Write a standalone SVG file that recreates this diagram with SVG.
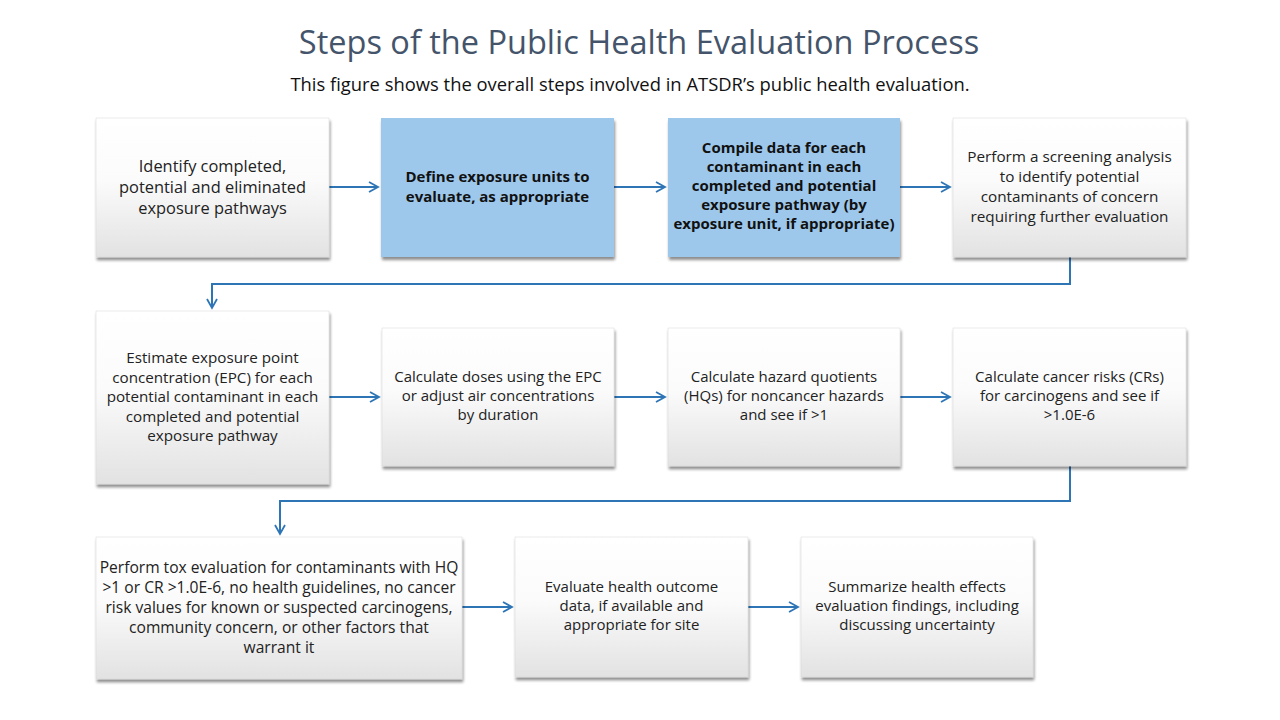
<svg xmlns="http://www.w3.org/2000/svg" width="1280" height="720" viewBox="0 0 1280 720">
<defs>
<linearGradient id="g" x1="0" y1="0" x2="0" y2="1">
<stop offset="0" stop-color="#ffffff"/>
<stop offset="0.45" stop-color="#fbfbfb"/>
<stop offset="1" stop-color="#e2e2e2"/>
</linearGradient>
<filter id="sh" x="-10%" y="-10%" width="120%" height="125%">
<feGaussianBlur in="SourceAlpha" stdDeviation="1.5"/>
<feOffset dx="1" dy="2.5"/>
<feComponentTransfer><feFuncA type="linear" slope="0.45"/></feComponentTransfer>
<feMerge><feMergeNode/><feMergeNode in="SourceGraphic"/></feMerge>
</filter>
<marker id="ah" viewBox="0 0 12 12" refX="10.5" refY="6" markerWidth="12" markerHeight="12" markerUnits="userSpaceOnUse" orient="auto">
<path d="M1.5,1 L10.5,6 L1.5,11" fill="none" stroke="#2E75B6" stroke-width="1.8"/>
</marker>
</defs>
<style>
.box{fill:url(#g);stroke:#d6d6d6;stroke-width:0.5;filter:url(#sh)}
.blue{fill:#9DC8EC;stroke:none;filter:url(#sh)}
.t{font-family:"Open Sans","Liberation Sans",sans-serif;font-size:15px;fill:#222;text-anchor:middle}
.b{font-family:"Open Sans","Liberation Sans",sans-serif;font-size:15px;font-weight:bold;fill:#111;text-anchor:middle}
.c{fill:none;stroke:#2E75B6;stroke-width:2}
</style>
<rect width="1280" height="720" fill="#fff"/>
<text x="639" y="54" font-family="'Open Sans','Liberation Sans',sans-serif" font-size="32.5" fill="#44546A" text-anchor="middle">Steps of the Public Health Evaluation Process</text>
<text x="630" y="91" font-family="'Open Sans','Liberation Sans',sans-serif" font-size="18.4" fill="#111" text-anchor="middle">This figure shows the overall steps involved in ATSDR’s public health evaluation.</text>

<g id="connectors">
<line class="c" x1="329" y1="187" x2="378" y2="187" marker-end="url(#ah)"/>
<line class="c" x1="614" y1="187" x2="665" y2="187" marker-end="url(#ah)"/>
<line class="c" x1="900" y1="187" x2="950" y2="187" marker-end="url(#ah)"/>
<polyline class="c" points="1070,257 1070,284 212,284 212,308" marker-end="url(#ah)"/>
<line class="c" x1="329" y1="397" x2="379" y2="397" marker-end="url(#ah)"/>
<line class="c" x1="614" y1="397" x2="665" y2="397" marker-end="url(#ah)"/>
<line class="c" x1="900" y1="397" x2="950" y2="397" marker-end="url(#ah)"/>
<polyline class="c" points="1070,466 1070,501 280,501 280,534" marker-end="url(#ah)"/>
<line class="c" x1="462" y1="607" x2="512" y2="607" marker-end="url(#ah)"/>
<line class="c" x1="748" y1="607" x2="798" y2="607" marker-end="url(#ah)"/>
</g>

<g id="n1"><rect class="box" x="96" y="118" width="233" height="139"/>
<text class="t" x="212.5" style="font-size:16.4px"><tspan x="212.5" y="172">Identify completed,</tspan><tspan x="212.5" y="193">potential and eliminated</tspan><tspan x="212.5" y="214">exposure pathways</tspan></text></g>

<g id="n2"><rect class="blue" x="381" y="118" width="233" height="139"/>
<text class="b" x="497.5"><tspan x="497.5" y="182">Define exposure units to</tspan><tspan x="497.5" y="202">evaluate, as appropriate</tspan></text></g>

<g id="n3"><rect class="blue" x="668" y="118" width="232" height="139"/>
<text class="b" x="784"><tspan x="784" y="153">Compile data for each</tspan><tspan x="784" y="172">contaminant in each</tspan><tspan x="784" y="191">completed and potential</tspan><tspan x="784" y="210">exposure pathway (by</tspan><tspan x="784" y="229">exposure unit, if appropriate)</tspan></text></g>

<g id="n4"><rect class="box" x="953" y="118" width="233" height="139"/>
<text class="t" x="1069.5" style="font-size:15.3px"><tspan x="1069.5" y="162">Perform a screening analysis</tspan><tspan x="1069.5" y="182">to identify potential</tspan><tspan x="1069.5" y="202">contaminants of concern</tspan><tspan x="1069.5" y="222">requiring further evaluation</tspan></text></g>

<g id="n5"><rect class="box" x="96" y="311" width="233" height="173"/>
<text class="t" x="212.5" style="font-size:15.2px"><tspan x="212.5" y="363">Estimate exposure point</tspan><tspan x="212.5" y="382.5">concentration (EPC) for each</tspan><tspan x="212.5" y="402">potential contaminant in each</tspan><tspan x="212.5" y="421.5">completed and potential</tspan><tspan x="212.5" y="441">exposure pathway</tspan></text></g>

<g id="n6"><rect class="box" x="382" y="328" width="232" height="138"/>
<text class="t" x="498"><tspan x="498" y="382">Calculate doses using the EPC</tspan><tspan x="498" y="401">or adjust air concentrations</tspan><tspan x="498" y="420">by duration</tspan></text></g>

<g id="n7"><rect class="box" x="668" y="328" width="232" height="138"/>
<text class="t" x="784"><tspan x="784" y="382">Calculate hazard quotients</tspan><tspan x="784" y="401">(HQs) for noncancer hazards</tspan><tspan x="784" y="420">and see if &gt;1</tspan></text></g>

<g id="n8"><rect class="box" x="953" y="328" width="233" height="138"/>
<text class="t" x="1069.5"><tspan x="1069.5" y="382">Calculate cancer risks (CRs)</tspan><tspan x="1069.5" y="401">for carcinogens and see if</tspan><tspan x="1069.5" y="420">&gt;1.0E-6</tspan></text></g>

<g id="n9"><rect class="box" x="96" y="537" width="366" height="142"/>
<text class="t" x="279" style="font-size:15.6px"><tspan x="279" y="573">Perform tox evaluation for contaminants with HQ</tspan><tspan x="279" y="593">&gt;1 or CR &gt;1.0E-6, no health guidelines, no cancer</tspan><tspan x="279" y="613">risk values for known or suspected carcinogens,</tspan><tspan x="279" y="633">community concern, or other factors that</tspan><tspan x="279" y="653">warrant it</tspan></text></g>

<g id="n10"><rect class="box" x="515" y="537" width="233" height="140"/>
<text class="t" x="631.5"><tspan x="631.5" y="592">Evaluate health outcome</tspan><tspan x="631.5" y="611">data, if available and</tspan><tspan x="631.5" y="630">appropriate for site</tspan></text></g>

<g id="n11"><rect class="box" x="801" y="537" width="232" height="140"/>
<text class="t" x="917"><tspan x="917" y="592">Summarize health effects</tspan><tspan x="917" y="611">evaluation findings, including</tspan><tspan x="917" y="630">discussing uncertainty</tspan></text></g>
</svg>
